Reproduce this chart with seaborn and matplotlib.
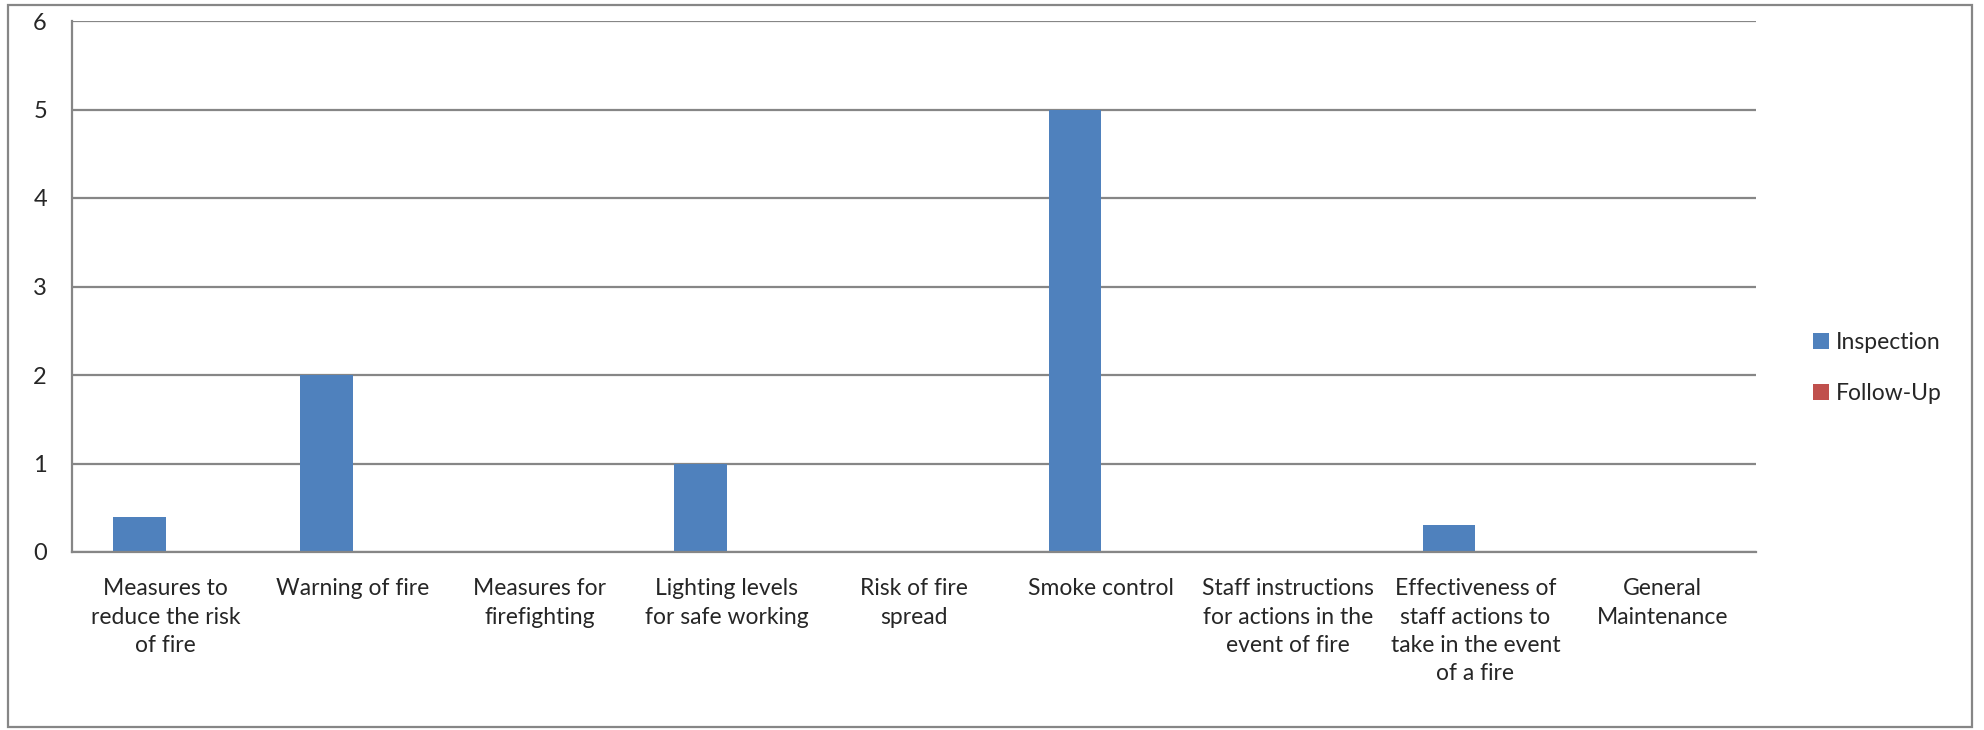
import pandas as pd
import numpy as np
import seaborn as sns
import matplotlib.pyplot as plt
from matplotlib.patches import Rectangle
from matplotlib.ticker import FixedLocator

categories = [
    "Measures to\nreduce the risk\nof fire",
    "Warning of fire",
    "Measures for\nfirefighting",
    "Lighting levels\nfor safe working",
    "Risk of fire\nspread",
    "Smoke control",
    "Staff instructions\nfor actions in the\nevent of fire",
    "Effectiveness of\nstaff actions to\ntake in the event\nof a fire",
    "General\nMaintenance",
]
inspection = [0.4, 2, 0, 1, 0, 5, 0, 0.3, 0]
follow_up = [0, 0, 0, 0, 0, 0, 0, 0, 0]
series = ["Inspection", "Follow-Up"]
colours = ["#4F81BD", "#C0504D"]

df = pd.DataFrame({
    "category": categories * 2,
    "series": [series[0]] * len(categories) + [series[1]] * len(categories),
    "value": inspection + follow_up,
})

sns.set_style("white")
plt.rcParams["font.family"] = ["Lato", "DejaVu Sans"]
grey = "#868686"

fig = plt.figure(figsize=(19.84, 7.3), dpi=100)
ax = fig.add_axes([72 / 1984, 1 - 552 / 730, (1756 - 72) / 1984, (552 - 21) / 730])

sns.barplot(data=df, x="category", y="value", hue="series", palette=colours,
            width=0.56, linewidth=0, saturation=1, ax=ax, errorbar=None)

ax.set_ylim(0, 6)
ax.set_xlim(-0.5, len(categories) - 0.5)
ax.set_yticks(range(0, 7))
ax.yaxis.grid(True, color=grey, linewidth=1.6)
ax.set_axisbelow(True)
ax.set_xlabel("")
ax.set_ylabel("")

for s in ["top", "right"]:
    ax.spines[s].set_visible(False)
for s in ["left", "bottom"]:
    ax.spines[s].set_color(grey)
    ax.spines[s].set_linewidth(1.6)

ax.tick_params(axis="y", length=6, width=1.6, color=grey, pad=12, labelsize=17)
ax.tick_params(axis="x", which="major", length=0, pad=19, labelsize=16.5)
ax.xaxis.set_minor_locator(FixedLocator(np.arange(-0.5, len(categories), 1)))
ax.tick_params(axis="x", which="minor", length=6, width=1.6, color=grey)
for lbl in ax.get_xticklabels():
    lbl.set_horizontalalignment("center")
    lbl.set_linespacing(1.42)

ax.legend(loc="center left", bbox_to_anchor=(1804 / 1984, 1 - 368 / 730),
          bbox_transform=fig.transFigure, frameon=False, fontsize=16.5,
          handlelength=0.7, handleheight=0.7, handletextpad=0.3,
          labelspacing=1.3, borderaxespad=0)

fig.patches.append(Rectangle((8 / 1984, 3 / 730), 1964 / 1984, 722 / 730,
                             transform=fig.transFigure, fill=False,
                             edgecolor=grey, linewidth=1.6))

fig.savefig("out.png", dpi=100)
